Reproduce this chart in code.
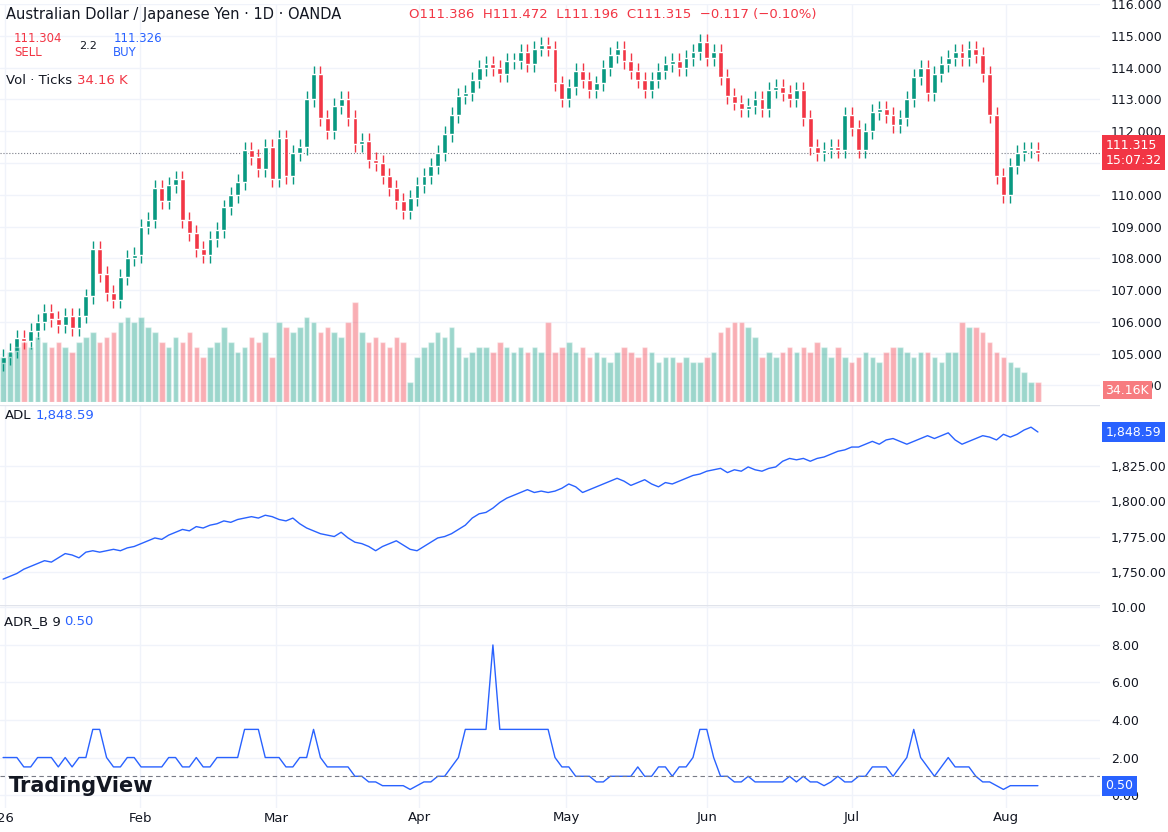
import numpy as np, pandas as pd, matplotlib
matplotlib.use("Agg")
import matplotlib.pyplot as plt, seaborn as sns

closes = [104.9,105.1,105.5,105.4,105.7,106.0,106.3,106.1,105.9,106.2,
105.8,106.2,106.8,108.3,107.5,106.9,106.7,107.4,108.0,108.1,
109.0,109.2,110.2,109.8,110.3,110.5,109.2,108.8,108.3,108.1,
108.6,108.9,109.6,110.0,110.4,111.4,111.2,110.8,111.5,110.5,
111.8,110.6,111.3,111.5,113.0,113.8,112.4,112.0,112.8,113.0,
112.4,111.6,111.7,111.1,111.0,110.6,110.2,109.8,109.5,109.9,
110.3,110.6,110.9,111.3,111.9,112.5,113.1,113.2,113.6,114.0,
114.1,114.0,113.8,114.2,114.2,114.5,114.1,114.6,114.7,114.6,
113.5,113.0,113.4,113.9,113.6,113.3,113.5,114.0,114.4,114.6,
114.2,113.9,113.6,113.3,113.6,113.9,114.1,114.2,114.0,114.3,
114.5,114.8,114.3,114.5,113.7,113.1,112.9,112.7,112.8,113.0,
112.7,113.3,113.4,113.2,113.0,113.3,112.4,111.5,111.3,111.4,
111.5,111.4,112.5,112.1,111.4,112.0,112.6,112.7,112.5,112.2,
112.4,113.0,113.7,114.0,113.2,113.8,114.1,114.3,114.5,114.3,
114.6,114.4,113.8,112.5,110.6,110.0,110.9,111.3,111.4,111.4,111.315]
first_open = 104.7
volume = [45,50,55,60,55,65,60,55,60,55,50,60,65,70,60,65,70,80,85,80,
85,75,70,60,55,65,60,70,55,45,55,60,75,60,50,55,65,60,70,45,
80,75,70,75,85,80,70,75,70,65,80,100,70,60,65,60,55,65,60,20,
45,55,60,70,65,75,55,45,50,55,55,50,60,55,50,55,50,55,50,80,
50,55,60,50,55,45,50,45,40,50,55,50,45,55,50,40,45,45,40,45,
40,40,45,50,70,75,80,80,75,65,45,50,45,50,55,50,55,50,60,55,
45,55,45,40,45,50,45,40,50,55,55,50,45,50,50,45,40,50,50,80,
75,75,70,60,50,45,40,35,30,20,20]
adl = [1745,1747,1749,1752,1754,1756,1758,1757,1760,1763,1762,1760,1764,1765,1764,1765,1766,1765,1767,1768,
1770,1772,1774,1773,1776,1778,1780,1779,1782,1781,1783,1784,1786,1785,1787,1788,1789,1788,1790,1789,
1787,1786,1788,1784,1781,1779,1777,1776,1775,1778,1774,1771,1770,1768,1765,1768,1770,1772,1769,1766,
1765,1768,1771,1774,1775,1777,1780,1783,1788,1791,1792,1795,1799,1802,1804,1806,1808,1806,1807,1806,
1807,1809,1812,1810,1806,1808,1810,1812,1814,1816,1814,1811,1813,1815,1812,1810,1813,1812,1814,1816,
1818,1819,1821,1822,1823,1820,1822,1821,1824,1822,1821,1823,1824,1828,1830,1829,1830,1828,1830,1831,
1833,1835,1836,1838,1838,1840,1842,1840,1843,1844,1842,1840,1842,1844,1846,1844,1846,1848,1843,1840,
1842,1844,1846,1845,1843,1847,1845,1847,1850,1852,1848.6]
adr = [2,2,2,1.5,1.5,2,2,2,1.5,2,1.5,2,2,3.5,3.5,2,1.5,1.5,2,2,
1.5,1.5,1.5,1.5,2,2,1.5,1.5,2,1.5,1.5,2,2,2,2,3.5,3.5,3.5,2,2,
2,1.5,1.5,2,2,3.5,2,1.5,1.5,1.5,1.5,1,1,0.7,0.7,0.5,0.5,0.5,0.5,0.3,
0.5,0.7,0.7,1,1,1.5,2,3.5,3.5,3.5,3.5,8,3.5,3.5,3.5,3.5,3.5,3.5,3.5,3.5,
2,1.5,1.5,1,1,1,0.7,0.7,1,1,1,1,1.5,1,1,1.5,1.5,1,1.5,1.5,
2,3.5,3.5,2,1,1,0.7,0.7,1,0.7,0.7,0.7,0.7,0.7,1,0.7,1,0.7,0.7,0.5,
0.7,1,0.7,0.7,1,1,1.5,1.5,1.5,1,1.5,2,3.5,2,1.5,1,1.5,2,1.5,1.5,
1.5,1,0.7,0.7,0.5,0.3,0.5,0.5,0.5,0.5,0.5]
month_labels = ["26","Feb","Mar","Apr","May","Jun","Jul","Aug"]
month_pos = [0.3,19.9,39.6,60.3,81.6,102,123,145.4]

n = len(closes)
df = pd.DataFrame({"i": np.arange(n), "close": closes,
                   "open": [first_open] + closes[:-1], "vol": volume, "adl": adl, "adr": adr})
df["up"] = df.close >= df.open
GREEN, RED = "#089981", "#f23645"

sns.set_style("white")
plt.rcParams['font.family'] = ['DejaVu Sans']
fig = plt.figure(figsize=(11.68, 8.32), dpi=100)
W, H = 1168, 832
def ax_at(top, bot):
    return fig.add_axes([0, 1 - bot/H, 1100/W, (bot-top)/H])
ax1 = ax_at(4, 402); ax2 = ax_at(405, 605); ax3 = ax_at(605, 808)
xlim = (-0.45, 159)

# volume on twin axis (created first so ticks can be fixed after)
axv = ax1.twinx()
axv.set_xlim(*xlim); axv.set_ylim(0, 400); axv.axis("off")
axv.bar(df.i, df.vol, width=0.8, color=[GREEN if u else RED for u in df.up], alpha=0.4)

for a in (ax1, ax2, ax3):
    a.set_xlim(*xlim)
    for s in a.spines.values(): s.set_visible(False)
    a.yaxis.tick_right()
    a.tick_params(axis='y', length=0, labelsize=9, pad=8, colors="#131722", labelright=True, labelleft=False)
    a.set_xticks(month_pos); a.grid(True, color="#f0f3fa", lw=1)
    a.tick_params(axis='x', length=0, labelbottom=False)
    a.set_axisbelow(True)

# candles
for r in df.itertuples():
    c = GREEN if r.up else RED
    lo, hi = min(r.open, r.close), max(r.open, r.close)
    ax1.vlines(r.i, lo - 0.25, hi + 0.25, color=c, lw=1, zorder=3)
    ax1.bar(r.i, max(hi - lo, 0.03), bottom=lo, width=0.7, color=c, zorder=4)
ax1.set_ylim(103.48, 116)
ax1.set_yticks(np.arange(104, 117, 1)); ax1.set_yticklabels([f"{v:.3f}" for v in np.arange(104, 117, 1.0)])
ax1.axhline(closes[-1], color="#787b86", ls=":", lw=0.8)
ax1.text(1.005, (closes[-1]-103.48)/12.52, "111.315\n15:07:32", transform=ax1.transAxes, fontsize=9,
         color="white", va="center", ha="left", bbox=dict(fc=RED, ec="none", pad=2.5), zorder=10)
ax1.text(1.005, 0.03, "34.16K", transform=ax1.transAxes, fontsize=9, color="white",
         va="center", bbox=dict(fc="#f77c80", ec="none", pad=2), zorder=10)
fig.text(0.005, 0.983, "Australian Dollar / Japanese Yen · 1D · OANDA", fontsize=10.5, color="#131722", va="center")
fig.text(0.35, 0.983, "O111.386  H111.472  L111.196  C111.315  −0.117 (−0.10%)", fontsize=9.5, color=RED, va="center")
fig.text(0.012, 0.945, "111.304\nSELL", fontsize=8.5, color=RED, ha="left", va="center", linespacing=1.1)
fig.text(0.068, 0.945, "2.2", fontsize=8, color="#131722", va="center")
fig.text(0.097, 0.945, "111.326\nBUY", fontsize=8.5, color="#2962ff", va="center", linespacing=1.1)
fig.text(0.005, 0.903, "Vol · Ticks", fontsize=9.5, color="#131722", va="center")
fig.text(0.066, 0.903, "34.16 K", fontsize=9.5, color=RED, va="center")

# ADL
sns.lineplot(data=df, x="i", y="adl", ax=ax2, color="#2962ff", lw=1)
ax2.set_ylim(1726.8, 1867.6); ax2.set_xlabel(""); ax2.set_ylabel("")
ax2.set_yticks([1750,1775,1800,1825]); ax2.set_yticklabels(["1,750.00","1,775.00","1,800.00","1,825.00"])
ax2.text(1.005, (1848.59-1726.8)/140.8, "1,848.59", transform=ax2.transAxes, fontsize=9,
         color="white", va="center", bbox=dict(fc="#2962ff", ec="none", pad=2.5))
ax2.text(0.004, 0.93, "ADL", fontsize=9.5, color="#131722", transform=ax2.transAxes)
ax2.text(0.032, 0.93, "1,848.59", fontsize=9.5, color="#2962ff", transform=ax2.transAxes)
ax2.axhline(1867.6, color="#e0e3eb", lw=1)

# ADR_B
sns.lineplot(data=df, x="i", y="adr", ax=ax3, color="#2962ff", lw=1)
ax3.set_ylim(-0.69, 10.13); ax3.set_xlabel(""); ax3.set_ylabel("")
ax3.set_yticks([0,2,4,6,8,10]); ax3.set_yticklabels(["0.00","2.00","4.00","6.00","8.00","10.00"])
ax3.axhline(1.0, color="#787b86", ls=(0,(4,3)), lw=0.8)
ax3.axhline(10.13, color="#e0e3eb", lw=1)
ax3.text(1.005, (0.5+0.69)/10.82, "0.50", transform=ax3.transAxes, fontsize=9,
         color="white", va="center", bbox=dict(fc="#2962ff", ec="none", pad=2.5))
ax3.text(0.004, 0.9, "ADR_B 9", fontsize=9.5, color="#131722", transform=ax3.transAxes)
ax3.text(0.058, 0.9, "0.50", fontsize=9.5, color="#2962ff", transform=ax3.transAxes)
fig.text(0.008, 0.055, "TradingView", fontsize=15, weight="bold", color="#131722", va="center")

for lab, p in zip(month_labels, month_pos):
    xf = (p - xlim[0]) / (xlim[1] - xlim[0]) * 1100 / W
    fig.text(xf, 1 - 818/H, lab, fontsize=9.5, color="#131722", ha="center", va="center")
fig.savefig("out.png", dpi=100)
